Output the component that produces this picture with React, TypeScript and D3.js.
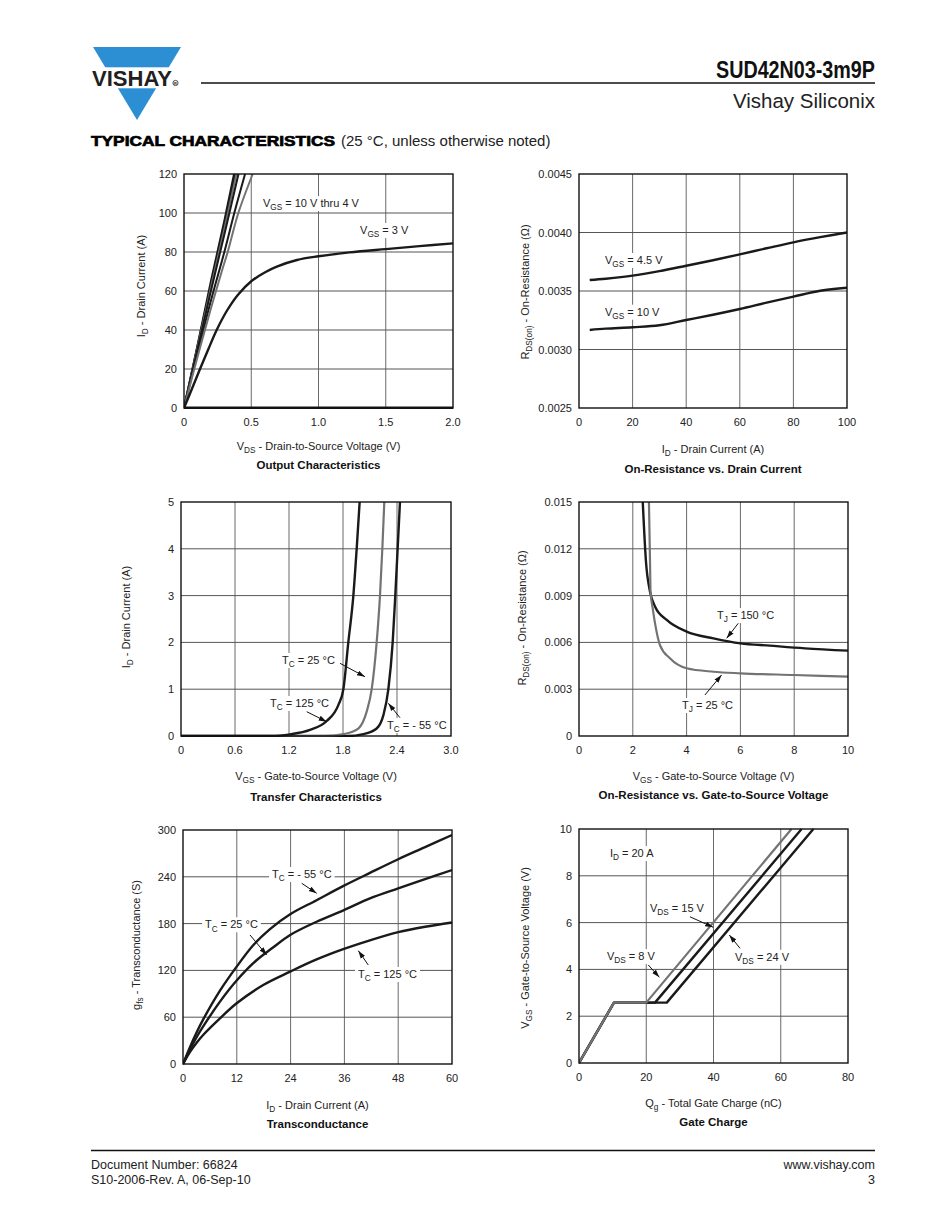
import React from 'react';
import * as d3 from 'd3';

type Pt = [number, number];

const FONT = '"Liberation Sans", Arial, Helvetica, sans-serif';
const BLACK = '#1a1a1a';
const GRAY = '#737373';

// ---------- Chart 1: Output Characteristics ----------
const outVdsTicks = [0, 0.5, 1.0, 1.5, 2.0];
const outVdsTickLabels = ['0', '0.5', '1.0', '1.5', '2.0'];
const outIdTicks = [0, 20, 40, 60, 80, 100, 120];
const outIdTickLabels = ['0', '20', '40', '60', '80', '100', '120'];
const outVgs10: Pt[] = [[0, 0], [0.1, 32], [0.2, 65], [0.3, 96], [0.372, 120]];
const outVgs8: Pt[] = [[0, 0], [0.1, 31.5], [0.2, 63], [0.3, 94], [0.38, 120]];
const outVgs6: Pt[] = [[0, 0], [0.1, 31], [0.2, 62], [0.3, 92], [0.39, 120]];
const outVgs5: Pt[] = [[0, 0], [0.1, 30], [0.2, 60], [0.3, 89], [0.405, 120]];
const outVgs45: Pt[] = [[0, 0], [0.1, 28], [0.2, 55], [0.3, 80], [0.374, 100], [0.454, 120]];
const outVgs4: Pt[] = [[0, 0], [0.1, 26], [0.2, 51], [0.285, 71], [0.325, 80], [0.404, 100], [0.511, 120]];
const outVgs3: Pt[] = [[0, 0], [0.06, 10], [0.119, 20], [0.18, 30], [0.243, 40], [0.32, 50], [0.4, 58], [0.5, 65], [0.6, 69.5], [0.69, 72.5], [0.84, 75.9], [1.0, 77.8], [1.23, 79.8], [1.5, 81.5], [1.75, 83], [2.0, 84.4]];
const outVgs2: Pt[] = [[0, 0], [2.0, 0]];

// ---------- Chart 2: On-Resistance vs. Drain Current ----------
const rdsIdTicks = [0, 20, 40, 60, 80, 100];
const rdsIdTickLabels = ['0', '20', '40', '60', '80', '100'];
const rdsRTicks = [0.0025, 0.003, 0.0035, 0.004, 0.0045];
const rdsRTickLabels = ['0.0025', '0.0030', '0.0035', '0.0040', '0.0045'];
const rdsVgs45: Pt[] = [[4, 0.003594], [10, 0.003605], [20, 0.003631], [30, 0.00367], [40, 0.003716], [50, 0.003763], [60, 0.003813], [70, 0.003865], [80, 0.003916], [90, 0.00396], [100, 0.004]];
const rdsVgs10: Pt[] = [[4, 0.003167], [10, 0.003178], [20, 0.00319], [30, 0.003207], [40, 0.003252], [50, 0.003297], [60, 0.003346], [70, 0.0034], [80, 0.003452], [90, 0.003502], [100, 0.003528]];

// ---------- Chart 3: Transfer Characteristics ----------
const trVgsTicks = [0, 0.6, 1.2, 1.8, 2.4, 3.0];
const trVgsTickLabels = ['0', '0.6', '1.2', '1.8', '2.4', '3.0'];
const trIdTicks = [0, 1, 2, 3, 4, 5];
const trIdTickLabels = ['0', '1', '2', '3', '4', '5'];
const trTc125: Pt[] = [[0, 0], [1.0, 0], [1.211, 0.036], [1.433, 0.13], [1.619, 0.32], [1.748, 0.66], [1.804, 1.0], [1.859, 2.0], [1.915, 3.0], [1.952, 4.0], [1.985, 5.0]];
const trTc25: Pt[] = [[0, 0], [1.6, 0], [1.804, 0.04], [1.97, 0.16], [2.063, 0.52], [2.119, 1.0], [2.174, 2.0], [2.211, 3.0], [2.237, 4.0], [2.259, 5.0]];
const trTcM55: Pt[] = [[0, 0], [1.85, 0], [2.026, 0.04], [2.174, 0.16], [2.248, 0.44], [2.304, 1.0], [2.352, 2.0], [2.381, 3.0], [2.407, 4.0], [2.433, 5.0]];

// ---------- Chart 4: On-Resistance vs. Gate-to-Source Voltage ----------
const rgVgsTicks = [0, 2, 4, 6, 8, 10];
const rgVgsTickLabels = ['0', '2', '4', '6', '8', '10'];
const rgRTicks = [0, 0.003, 0.006, 0.009, 0.012, 0.015];
const rgRTickLabels = ['0', '0.003', '0.006', '0.009', '0.012', '0.015'];
const rgTj150: Pt[] = [[2.37, 0.015], [2.49, 0.01117], [2.64, 0.00925], [2.83, 0.00829], [3.26, 0.00744], [4.0, 0.00669], [5.0, 0.00626], [6.0, 0.00594], [7.1, 0.00579], [8.4, 0.00562], [10, 0.00547]];
const rgTj25: Pt[] = [[2.6, 0.015], [2.64, 0.01117], [2.66, 0.00925], [2.74, 0.00818], [2.86, 0.0069], [3.01, 0.00583], [3.38, 0.00498], [4.0, 0.00434], [5.0, 0.00412], [6.0, 0.00402], [8.0, 0.00391], [10, 0.0038]];

// ---------- Chart 5: Transconductance ----------
const gfsIdTicks = [0, 12, 24, 36, 48, 60];
const gfsIdTickLabels = ['0', '12', '24', '36', '48', '60'];
const gfsTicks = [0, 60, 120, 180, 240, 300];
const gfsTickLabels = ['0', '60', '120', '180', '240', '300'];
const gfsTcM55: Pt[] = [[0, 0], [1.5, 21], [3, 40], [4.54, 57.5], [8.25, 94], [11.97, 124.8], [15.7, 152.6], [19.4, 173], [23.9, 192], [29.8, 210], [35.7, 228], [41.7, 245], [48, 262.5], [54, 278], [60, 293.6]];
const gfsTc25: Pt[] = [[0, 0], [1.5, 18], [3, 34], [4.54, 48.5], [8.25, 80], [11.97, 107], [16.4, 133], [20, 149], [23.9, 165.4], [29.8, 182.4], [35.9, 197.4], [41.7, 212.4], [48, 225.2], [54, 237], [60, 248.7]];
const gfsTc125: Pt[] = [[0, 0], [1.5, 15], [3, 27], [4.54, 37.5], [8.25, 58.5], [11.97, 77.8], [17.9, 101.3], [23.9, 118.4], [29.8, 134], [35.9, 147.5], [41.7, 158.5], [48, 169], [54, 176], [60, 181.5]];

// ---------- Chart 6: Gate Charge ----------
const qgTicks = [0, 20, 40, 60, 80];
const qgTickLabels = ['0', '20', '40', '60', '80'];
const qgVgsTicks = [0, 2, 4, 6, 8, 10];
const qgVgsTickLabels = ['0', '2', '4', '6', '8', '10'];
const qgVds8: Pt[] = [[0, 0], [10.4, 2.58], [20.0, 2.58], [63.2, 10]];
const qgVds15: Pt[] = [[0, 0], [10.4, 2.58], [22.6, 2.58], [66.2, 10]];
const qgVds24: Pt[] = [[0, 0], [10.4, 2.58], [26.1, 2.58], [69.7, 10]];

// ---------- text helpers ----------
let _ctx: CanvasRenderingContext2D | null = null;
function textW(s: string, size: number, weight = 'normal') {
  if (typeof document === 'undefined') return s.length * size * 0.55;
  if (!_ctx) _ctx = document.createElement('canvas').getContext('2d');
  if (!_ctx) return s.length * size * 0.55;
  _ctx.font = `${weight} ${size}px "Liberation Sans", Arial, sans-serif`;
  return _ctx.measureText(s).width;
}

function splitRich(s: string): { t: string; sub: boolean }[] {
  const out: { t: string; sub: boolean }[] = [];
  const re = /_\{([^}]*)\}/g;
  let last = 0;
  let m: RegExpExecArray | null;
  while ((m = re.exec(s))) {
    if (m.index > last) out.push({ t: s.slice(last, m.index), sub: false });
    out.push({ t: m[1], sub: true });
    last = m.index + m[0].length;
  }
  if (last < s.length) out.push({ t: s.slice(last), sub: false });
  return out;
}

function richWidth(s: string, size: number, weight = 'normal') {
  return splitRich(s).reduce((a, p) => a + textW(p.t, p.sub ? size * 0.75 : size, weight), 0);
}

function Rich({ s, size }: { s: string; size: number }) {
  const parts = splitRich(s);
  const shift = size * 0.3;
  let down = false;
  return (
    <>
      {parts.map((p, i) => {
        let dy = 0;
        if (p.sub && !down) { dy = shift; down = true; }
        else if (!p.sub && down) { dy = -shift; down = false; }
        return (
          <tspan key={i} fontSize={p.sub ? size * 0.75 : size} dy={dy || undefined}>
            {p.t}
          </tspan>
        );
      })}
    </>
  );
}

type CurveKind = 'linear' | 'mono' | 'cr';
type Series = { pts: Pt[]; color: string; width: number; curve: CurveKind };
type Label = { at: Pt; text: string };
type Arrow = { from: Pt; to: Pt };
type ChartCfg = {
  id: string;
  box: { x0: number; x1: number; y0: number; y1: number };
  xDomain: [number, number];
  yDomain: [number, number];
  xTicks: number[];
  xTickLabels: string[];
  yTicks: number[];
  yTickLabels: string[];
  series: Series[];
  labels: Label[];
  arrows: Arrow[];
  xTitle: string;
  yTitle: string;
  title: string;
  yTitleX: number;
  yTitleY: number;
  xTitleDy: number;
  titleDy: number;
};

const TICK = 11;
const AX = 11;
const ANN = 11;

function curveOf(k: CurveKind) {
  if (k === 'mono') return d3.curveMonotoneX;
  if (k === 'cr') return d3.curveCatmullRom.alpha(0.5);
  return d3.curveLinear;
}

function Chart({ c }: { c: ChartCfg }) {
  const { x0, x1, y0, y1 } = c.box;
  const x = d3.scaleLinear().domain(c.xDomain).range([x0, x1]);
  const y = d3.scaleLinear().domain(c.yDomain).range([y1, y0]);
  const cx = (x0 + x1) / 2;
  return (
    <g>
      <defs>
        <clipPath id={`clip-${c.id}`}>
          <rect x={x0} y={y0 - 1} width={x1 - x0} height={y1 - y0 + 2} />
        </clipPath>
      </defs>
      {c.xTicks.slice(1, -1).map((t) => (
        <line key={'gx' + t} x1={x(t)} x2={x(t)} y1={y0} y2={y1} stroke="#6a6a6a" strokeWidth={1} />
      ))}
      {c.yTicks.slice(1, -1).map((t) => (
        <line key={'gy' + t} x1={x0} x2={x1} y1={y(t)} y2={y(t)} stroke="#555" strokeWidth={1} />
      ))}
      {c.xTicks.map((t, i) => (
        <text key={'tx' + t} x={x(t)} y={y1 + 18} fontSize={TICK} textAnchor="middle" fill="#222">
          {c.xTickLabels[i]}
        </text>
      ))}
      {c.yTicks.map((t, i) => (
        <text key={'ty' + t} x={x0 - 7} y={y(t) + 4} fontSize={TICK} textAnchor="end" fill="#222">
          {c.yTickLabels[i]}
        </text>
      ))}
      {c.labels.map((l, i) => {
        const w = richWidth(l.text, ANN);
        const lx = x(l.at[0]);
        const ly = y(l.at[1]);
        return <rect key={'lb' + i} x={lx - 3} y={ly - 7} width={w + 6} height={15} fill="#fff" />;
      })}
      <g clipPath={`url(#clip-${c.id})`}>
        {c.series.map((s, i) => {
          const gen = d3
            .line<Pt>()
            .x((d) => x(d[0]))
            .y((d) => y(d[1]))
            .curve(curveOf(s.curve));
          return (
            <path key={'s' + i} d={gen(s.pts) || ''} fill="none" stroke={s.color} strokeWidth={s.width} strokeLinejoin="round" />
          );
        })}
      </g>
      {c.labels.map((l, i) => (
        <text key={'lt' + i} x={x(l.at[0])} y={y(l.at[1]) + 4} fontSize={ANN} fill="#222">
          <Rich s={l.text} size={ANN} />
        </text>
      ))}
      {c.arrows.map((a, i) => (
        <line
          key={'ar' + i}
          x1={x(a.from[0])}
          y1={y(a.from[1])}
          x2={x(a.to[0])}
          y2={y(a.to[1])}
          stroke="#111"
          strokeWidth={1}
          markerEnd="url(#arrowhead)"
        />
      ))}
      <rect x={x0} y={y0} width={x1 - x0} height={y1 - y0} fill="none" stroke="#111" strokeWidth={1.4} />
      <text x={cx} y={y1 + c.xTitleDy} fontSize={AX} textAnchor="middle" fill="#222">
        <Rich s={c.xTitle} size={AX} />
      </text>
      <text x={cx} y={y1 + c.titleDy} fontSize={11.5} fontWeight="bold" textAnchor="middle" fill="#111">
        {c.title}
      </text>
      <text transform={`translate(${c.yTitleX},${c.yTitleY}) rotate(-90)`} fontSize={AX} textAnchor="middle" fill="#222">
        <Rich s={c.yTitle} size={AX} />
      </text>
    </g>
  );
}

const charts: ChartCfg[] = [
  {
    id: 'out',
    box: { x0: 184, x1: 453, y0: 174, y1: 408 },
    xDomain: [0, 2],
    yDomain: [0, 120],
    xTicks: outVdsTicks,
    xTickLabels: outVdsTickLabels,
    yTicks: outIdTicks,
    yTickLabels: outIdTickLabels,
    series: [
      { pts: outVgs10, color: BLACK, width: 2, curve: 'linear' },
      { pts: outVgs8, color: BLACK, width: 2, curve: 'linear' },
      { pts: outVgs6, color: GRAY, width: 1.8, curve: 'linear' },
      { pts: outVgs5, color: BLACK, width: 2, curve: 'linear' },
      { pts: outVgs45, color: BLACK, width: 2, curve: 'cr' },
      { pts: outVgs4, color: GRAY, width: 2, curve: 'cr' },
      { pts: outVgs3, color: BLACK, width: 2.4, curve: 'cr' },
      { pts: outVgs2, color: BLACK, width: 3, curve: 'linear' },
    ],
    labels: [
      { at: [0.587, 105.1], text: 'V_{GS} = 10 V thru 4 V' },
      { at: [1.309, 91.3], text: 'V_{GS} = 3 V' },
    ],
    arrows: [],
    xTitle: 'V_{DS} - Drain-to-Source Voltage (V)',
    yTitle: 'I_{D} - Drain Current (A)',
    title: 'Output Characteristics',
    yTitleX: 145,
    yTitleY: 286,
    xTitleDy: 42,
    titleDy: 61,
  },
  {
    id: 'rid',
    box: { x0: 579, x1: 847, y0: 174, y1: 408 },
    xDomain: [0, 100],
    yDomain: [0.0025, 0.0045],
    xTicks: rdsIdTicks,
    xTickLabels: rdsIdTickLabels,
    yTicks: rdsRTicks,
    yTickLabels: rdsRTickLabels,
    series: [
      { pts: rdsVgs45, color: BLACK, width: 2.4, curve: 'cr' },
      { pts: rdsVgs10, color: BLACK, width: 2.4, curve: 'cr' },
    ],
    labels: [
      { at: [9.7, 0.003765], text: 'V_{GS} = 4.5 V' },
      { at: [9.7, 0.003323], text: 'V_{GS} = 10 V' },
    ],
    arrows: [],
    xTitle: 'I_{D} - Drain Current (A)',
    yTitle: 'R_{DS(on)} - On-Resistance (Ω)',
    title: 'On-Resistance vs. Drain Current',
    yTitleX: 529,
    yTitleY: 292,
    xTitleDy: 45,
    titleDy: 65,
  },
  {
    id: 'tr',
    box: { x0: 181, x1: 451, y0: 502, y1: 736 },
    xDomain: [0, 3],
    yDomain: [0, 5],
    xTicks: trVgsTicks,
    xTickLabels: trVgsTickLabels,
    yTicks: trIdTicks,
    yTickLabels: trIdTickLabels,
    series: [
      { pts: trTcM55, color: BLACK, width: 2.4, curve: 'mono' },
      { pts: trTc25, color: GRAY, width: 2.2, curve: 'mono' },
      { pts: trTc125, color: BLACK, width: 2.4, curve: 'mono' },
    ],
    labels: [
      { at: [1.122, 1.624], text: 'T_{C} = 25 °C' },
      { at: [0.989, 0.705], text: 'T_{C} = 125 °C' },
      { at: [2.289, 0.235], text: 'T_{C} = - 55 °C' },
    ],
    arrows: [
      { from: [1.767, 1.553], to: [2.044, 1.267] },
      { from: [1.397, 0.519], to: [1.619, 0.306] },
      { from: [2.433, 0.391], to: [2.303, 0.699] },
    ],
    xTitle: 'V_{GS} - Gate-to-Source Voltage (V)',
    yTitle: 'I_{D} - Drain Current (A)',
    title: 'Transfer Characteristics',
    yTitleX: 130,
    yTitleY: 617,
    xTitleDy: 44,
    titleDy: 65,
  },
  {
    id: 'rg',
    box: { x0: 579, x1: 848, y0: 502, y1: 736 },
    xDomain: [0, 10],
    yDomain: [0, 0.015],
    xTicks: rgVgsTicks,
    xTickLabels: rgVgsTickLabels,
    yTicks: rgRTicks,
    yTickLabels: rgRTickLabels,
    series: [
      { pts: rgTj150, color: BLACK, width: 2.4, curve: 'mono' },
      { pts: rgTj25, color: GRAY, width: 2.2, curve: 'mono' },
    ],
    labels: [
      { at: [5.13, 0.007756], text: 'T_{J} = 150 °C' },
      { at: [3.83, 0.001987], text: 'T_{J} = 25 °C' },
    ],
    arrows: [
      { from: [5.92, 0.007224], to: [5.49, 0.006263] },
      { from: [4.68, 0.002628], to: [5.3, 0.00391] },
    ],
    xTitle: 'V_{GS} - Gate-to-Source Voltage (V)',
    yTitle: 'R_{DS(on)} - On-Resistance (Ω)',
    title: 'On-Resistance vs. Gate-to-Source Voltage',
    yTitleX: 526,
    yTitleY: 618,
    xTitleDy: 44,
    titleDy: 63,
  },
  {
    id: 'gfs',
    box: { x0: 183, x1: 452, y0: 830, y1: 1064 },
    xDomain: [0, 60],
    yDomain: [0, 300],
    xTicks: gfsIdTicks,
    xTickLabels: gfsIdTickLabels,
    yTicks: gfsTicks,
    yTickLabels: gfsTickLabels,
    series: [
      { pts: gfsTcM55, color: BLACK, width: 2.4, curve: 'cr' },
      { pts: gfsTc25, color: BLACK, width: 2.4, curve: 'cr' },
      { pts: gfsTc125, color: BLACK, width: 2.4, curve: 'cr' },
    ],
    labels: [
      { at: [19.85, 243.6], text: 'T_{C} = - 55 °C' },
      { at: [4.91, 179.1], text: 'T_{C} = 25 °C' },
      { at: [39.04, 115.4], text: 'T_{C} = 125 °C' },
    ],
    arrows: [
      { from: [26.48, 231.7], to: [29.82, 218.8] },
      { from: [14.95, 165.4], to: [18.67, 139.7] },
      { from: [41.33, 126.9], to: [39.1, 145.3] },
    ],
    xTitle: 'I_{D} - Drain Current (A)',
    yTitle: 'g_{fs} - Transconductance (S)',
    title: 'Transconductance',
    yTitleX: 140,
    yTitleY: 945,
    xTitleDy: 45,
    titleDy: 64,
  },
  {
    id: 'qg',
    box: { x0: 579, x1: 848, y0: 829, y1: 1063 },
    xDomain: [0, 80],
    yDomain: [0, 10],
    xTicks: qgTicks,
    xTickLabels: qgTickLabels,
    yTicks: qgVgsTicks,
    yTickLabels: qgVgsTickLabels,
    series: [
      { pts: qgVds24, color: BLACK, width: 2.4, curve: 'linear' },
      { pts: qgVds15, color: BLACK, width: 2.4, curve: 'linear' },
      { pts: qgVds8, color: GRAY, width: 2.2, curve: 'linear' },
    ],
    labels: [
      { at: [9.2, 8.97], text: 'I_{D} = 20 A' },
      { at: [21.1, 6.62], text: 'V_{DS} = 15 V' },
      { at: [8.3, 4.57], text: 'V_{DS} = 8 V' },
      { at: [46.4, 4.54], text: 'V_{DS} = 24 V' },
    ],
    arrows: [
      { from: [33.0, 6.25], to: [39.9, 5.8] },
      { from: [20.6, 4.19], to: [23.9, 3.66] },
      { from: [47.9, 4.9], to: [44.7, 5.47] },
    ],
    xTitle: 'Q_{g} - Total Gate Charge (nC)',
    yTitle: 'V_{GS} - Gate-to-Source Voltage (V)',
    title: 'Gate Charge',
    yTitleX: 529,
    yTitleY: 948,
    xTitleDy: 44,
    titleDy: 63,
  },
];

function Header() {
  const blue = '#2d8fd3';
  return (
    <g>
      <polygon points="93,47 181,47 137,120" fill={blue} />
      <rect x={80} y={67.3} width={120} height={21} fill="#fff" />
      <text x={92} y={86} fontSize={22} fontWeight="bold" fill="#231f20" textLength={80} lengthAdjust="spacingAndGlyphs">
        VISHAY
      </text>
      <circle cx={175.5} cy={83} r={2.6} fill="none" stroke="#231f20" strokeWidth={0.8} />
      <text x={175.5} y={84.6} fontSize={4} fontWeight="bold" textAnchor="middle" fill="#231f20">R</text>
      <line x1={201} x2={875} y1={83} y2={83} stroke="#111" strokeWidth={1.5} />
      <text x={875} y={78} fontSize={24} fontWeight="bold" textAnchor="end" fill="#111" textLength={159} lengthAdjust="spacingAndGlyphs">
        SUD42N03-3m9P
      </text>
      <text x={875} y={108} fontSize={20.5} textAnchor="end" fill="#222">
        Vishay Siliconix
      </text>
      <text x={91} y={145.5} fontSize={15} fontWeight="bold" fill="#000" stroke="#000" strokeWidth={0.7} textLength={244} lengthAdjust="spacingAndGlyphs">
        TYPICAL CHARACTERISTICS
      </text>
      <text x={341} y={145.5} fontSize={15} fill="#222">
        (25 °C, unless otherwise noted)
      </text>
    </g>
  );
}

function Footer() {
  return (
    <g fontSize={12.5} fill="#222">
      <line x1={91} x2={875} y1={1150.5} y2={1150.5} stroke="#111" strokeWidth={1.5} />
      <text x={91} y={1168.5}>Document Number: 66824</text>
      <text x={91} y={1184}>S10-2006-Rev. A, 06-Sep-10</text>
      <text x={875} y={1168.5} textAnchor="end">www.vishay.com</text>
      <text x={875} y={1184} textAnchor="end">3</text>
    </g>
  );
}

export default function App() {
  return (
    <svg
      width={950}
      height={1230}
      viewBox="0 0 950 1230"
      style={{ position: 'absolute', left: 0, top: 0, background: '#fff' }}
      fontFamily={FONT}
    >
      <defs>
        <marker id="arrowhead" viewBox="0 0 10 10" refX={10} refY={5} markerUnits="userSpaceOnUse" markerWidth={8} markerHeight={8} orient="auto">
          <path d="M0,1.8 L10,5 L0,8.2 z" fill="#111" />
        </marker>
      </defs>
      <rect x={0} y={0} width={950} height={1230} fill="#fff" />
      <Header />
      {charts.map((c) => (
        <Chart key={c.id} c={c} />
      ))}
      <Footer />
    </svg>
  );
}
